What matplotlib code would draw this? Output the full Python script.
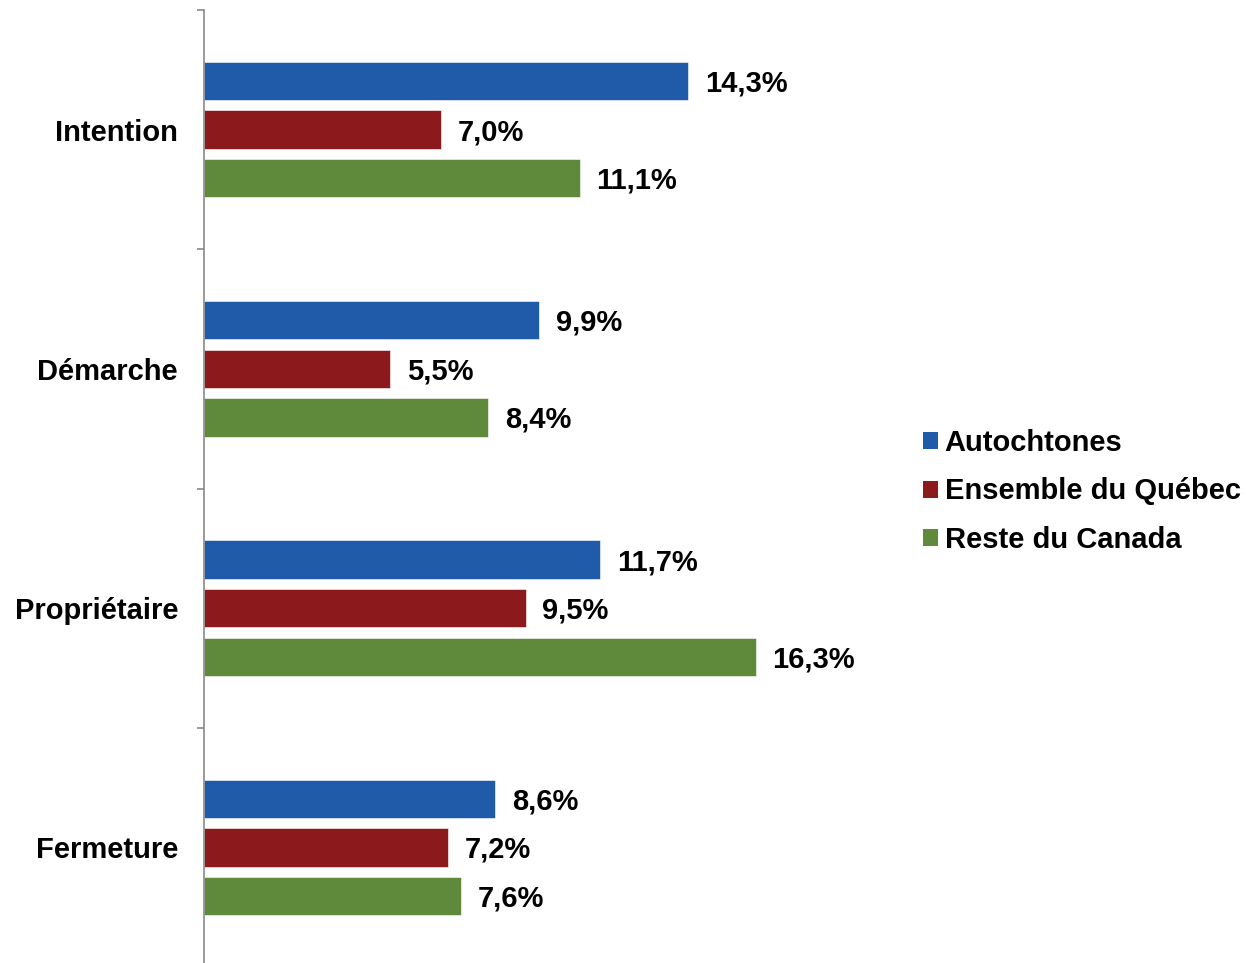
import numpy as np
import matplotlib
matplotlib.use("Agg")
import matplotlib.pyplot as plt
from matplotlib.patches import Patch

#---Data---#
categories = ['Intention', 'Démarche', 'Propriétaire', 'Fermeture']
series_names = ['Autochtones', 'Ensemble du Québec', 'Reste du Canada']
autochtones = [14.3, 9.9, 11.7, 8.6]
quebec = [7.0, 5.5, 9.5, 7.2]
reste_canada = [11.1, 8.4, 16.3, 7.6]
series_values = [autochtones, quebec, reste_canada]
colors = ['#1F5BA8', '#8C1A1C', '#5F8A3C']

plt.rcParams['font.family'] = ['Liberation Sans', 'DejaVu Sans']
plt.rcParams['font.weight'] = 'bold'
fsize = 21

fig = plt.figure(figsize=(12.46, 9.63), dpi=100)
W, H = 1246, 963
# axes from x=204px to right edge, y from 10px to 967px (slightly below canvas)
ax = fig.add_axes([204 / W, 1 - 967 / H, 1 - 204 / W, (967 - 10) / H])

centers = np.arange(len(categories)) + 0.5
offsets = [-0.203, 0.0, 0.203]
bar_h = 0.16

for vals, off, col in zip(series_values, offsets, colors):
    ypos = centers + off
    ax.barh(ypos, vals, height=bar_h, color=col, edgecolor='white', linewidth=0.4)
    for y, v in zip(ypos, vals):
        ax.annotate(('%.1f%%' % v).replace('.', ','), xy=(v, y), xytext=(12, -1.8),
                    textcoords='offset points', ha='left', va='center',
                    fontsize=fsize, fontweight='bold', color='black')

ax.set_xlim(0, (W - 204) / 33.85)
ax.set_ylim(len(categories), 0)

# spines
for s in ['top', 'right', 'bottom']:
    ax.spines[s].set_visible(False)
ax.spines['left'].set_color('#898989')
ax.spines['left'].set_linewidth(1.2)
ax.set_xticks([])

# major ticks at band boundaries, labels on minor ticks at centers
ax.set_yticks(np.arange(len(categories) + 1))
ax.set_yticklabels([])
ax.tick_params(axis='y', which='major', direction='out', length=5, width=1.2, color='#898989')
ax.set_yticks(centers, minor=True)
ax.set_yticklabels(categories, minor=True, fontsize=fsize, fontweight='bold')
ax.tick_params(axis='y', which='minor', length=0, pad=18.7)

handles = [Patch(facecolor=c, edgecolor='none') for c in colors]
fig.legend(handles, series_names, loc='center left', bbox_to_anchor=(923 / W, 1 - 491.5 / H),
           frameon=False, fontsize=fsize, handlelength=0.52, handleheight=0.52,
           handletextpad=0.22, labelspacing=0.71, borderpad=0, borderaxespad=0,
           prop={'weight': 'bold', 'size': fsize})

fig.savefig('out.png', dpi=100)
